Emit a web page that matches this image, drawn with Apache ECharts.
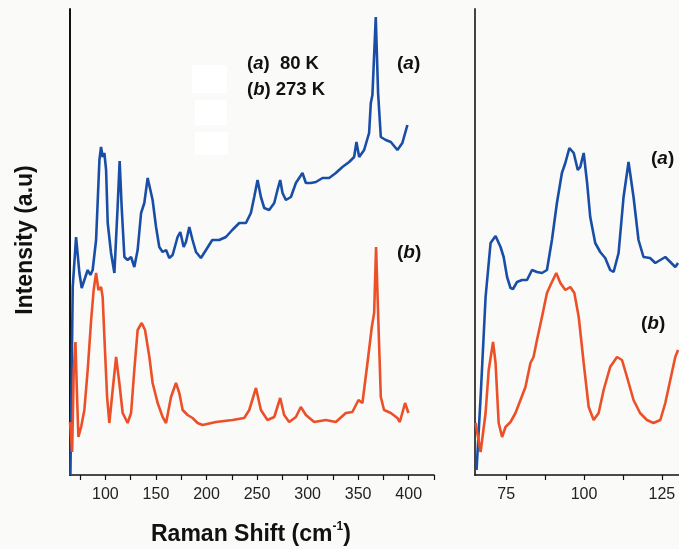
<!DOCTYPE html>
<html>
<head>
<meta charset="utf-8">
<script src="https://cdn.jsdelivr.net/npm/echarts@6/dist/echarts.min.js"></script>
<style>
html,body{margin:0;padding:0;background:#fafaf8;}
#chart{width:679px;height:549px;}
</style>
</head>
<body>
<div id="chart"></div>
<script>
// full range, curve (a) 80 K
var wideShiftA = [65.4,67.7,71.0,74.3,76.6,79.2,82.5,85.2,87.4,90.8,94.1,95.7,97.3,99.0,100.7,102.3,105.6,108.9,112.1,114.1,116.1,118.8,122.0,125.4,128.6,131.9,135.3,138.5,141.8,144.5,146.7,150.1,153.3,156.6,160.0,163.2,166.5,171.4,174.1,177.4,179.7,183.0,186.2,189.6,194.5,199.5,205.7,212.6,219.2,225.5,232.4,239.0,243.9,247.2,250.5,253.8,257.1,262.0,267.0,270.2,272.9,275.2,278.5,283.5,288.4,294.9,298.3,303.2,308.2,314.7,321.3,327.9,334.4,341.1,346.0,348.3,351.0,355.9,360.8,362.5,364.1,367.4,369.7,372.4,377.3,382.3,388.8,393.7,398.7];
var wideIntA = [0,188,238,202,187,195,205,200,205,235,315,328,318,322,305,252,222,202,268,314,268,218,215,218,208,225,262,272,297,285,275,248,228,223,225,217,220,238,243,228,233,248,235,223,217,225,235,235,238,245,252,252,262,278,295,278,267,265,272,285,295,282,275,278,292,302,292,292,293,297,297,302,308,313,318,333,318,325,342,372,380,458,382,338,335,333,325,332,350];
// full range, curve (b) 273 K
var wideShiftB = [65.0,67.1,68.7,70.4,72.0,73.3,76.0,79.2,82.5,85.9,88.4,90.8,93.1,95.7,97.3,99.0,101.7,103.9,107.2,110.6,113.8,117.1,122.0,125.4,128.6,131.9,135.9,139.2,143.5,146.7,151.7,156.6,160.0,164.9,169.8,173.1,176.4,181.3,186.2,191.2,196.1,209.4,225.8,237.3,242.3,248.9,253.8,260.3,267.0,272.9,276.8,281.8,288.4,293.3,298.3,306.5,318.0,327.9,337.8,344.3,350.3,354.2,359.2,363.5,365.8,367.7,369.7,372.4,375.6,382.3,388.8,391.2,396.4,399.7];
var wideIntB = [53,23,105,133,78,38,48,65,105,155,185,202,185,188,178,138,78,52,85,118,92,62,52,62,105,145,152,145,118,92,72,58,52,78,92,82,65,60,57,52,50,53,55,57,65,87,65,55,58,77,60,53,58,68,60,53,55,53,62,63,75,72,112,148,162,228,162,78,65,62,57,53,72,62];
// low-frequency detail, curve (a)
var zoomShiftA = [65.5,66.8,68.4,70.0,71.6,73.2,74.2,75.3,76.4,77.2,78.5,80.1,81.7,83.3,84.9,86.5,88.1,89.7,91.3,92.9,94.0,95.3,96.7,98.0,98.8,99.9,101.0,102.0,103.6,105.2,106.8,108.4,109.5,111.1,112.7,114.3,115.9,117.5,119.1,121.2,122.9,124.5,126.1,127.7,129.3,130.2];
var zoomIntA = [5,78,178,232,239,228,218,198,187,186,193,195,195,205,203,202,205,235,272,302,312,327,322,305,308,322,292,258,232,223,217,205,203,222,278,313,278,235,218,217,212,215,218,213,208,212];
// low-frequency detail, curve (b)
var zoomShiftB = [65.2,66.8,68.4,69.4,70.8,71.6,72.6,73.7,74.8,76.4,78.0,79.6,81.2,82.8,83.8,84.9,86.5,88.1,89.7,91.1,92.4,94.0,95.6,96.9,98.3,99.9,101.5,103.1,104.7,106.3,108.4,110.6,112.2,113.8,115.9,118.0,120.2,122.3,124.5,126.1,127.7,129.3,130.2];
var zoomIntB = [52,23,62,105,133,112,52,38,48,53,62,75,88,112,118,135,158,182,193,202,192,185,188,182,158,112,68,55,62,85,108,118,115,98,75,62,55,52,55,72,95,118,125];

var wideTicks = [75,100,125,150,175,200,225,250,275,300,325,350,375,400,425];
var wideLabels = [100,150,200,250,300,350,400];
var zoomTicks = [75,87.5,100,112.5,125];
var zoomLabels = [75,100,125];

var blue = '#1a4ea6';
var red = '#eb5028';

function pairs(xs, ys){
    return xs.map(function(x,i){ return [x, ys[i]]; });
}

var chart = echarts.init(document.getElementById('chart'));

function xAxisFor(idx, min, max, ticks, labels){
    return {
        type:'value', gridIndex:idx, min:min, max:max,
        splitLine:{show:false},
        axisLine:{show:true, onZero:false, lineStyle:{color:'#111', width:1.5}},
        axisTick:{show:true, customValues:ticks, length:5, lineStyle:{color:'#111', width:1.2}},
        axisLabel:{customValues:labels, color:'#222', fontSize:16, margin:12,
                   fontFamily:'Liberation Sans, Arial, sans-serif'}
    };
}
function yAxisFor(idx, col){
    return {
        type:'value', gridIndex:idx, min:0, max:466,
        splitLine:{show:false},
        axisLine:{show:true, lineStyle:{color:col, width:2}},
        axisTick:{show:false},
        axisLabel:{show:false}
    };
}
function curve(xi, xs, ys, col){
    return {
        type:'line', xAxisIndex:xi, yAxisIndex:xi,
        data:pairs(xs, ys), showSymbol:false, smooth:false,
        lineStyle:{color:col, width:2.6}, itemStyle:{color:col},
        animation:false
    };
}

var bold = 'Liberation Sans, Arial, sans-serif';
function tag(letter, x, y){
    return {
        type:'text', left:x, top:y,
        style:{
            text:'{n|(}{i|' + letter + '}{n|)}',
            rich:{
                n:{fontSize:19, fontWeight:'bold', fontFamily:bold, fill:'#111'},
                i:{fontSize:19, fontWeight:'bold', fontStyle:'italic', fontFamily:bold, fill:'#111'}
            }
        }
    };
}

chart.setOption({
    backgroundColor:'#fafaf8',
    grid:[
        {left:70, right:245, top:9, bottom:74},
        {left:475, right:0, top:9, bottom:74}
    ],
    xAxis:[
        xAxisFor(0, 65, 425, wideTicks, wideLabels),
        xAxisFor(1, 65, 130.5, zoomTicks, zoomLabels)
    ],
    yAxis:[yAxisFor(0, '#111'), yAxisFor(1, '#444')],
    series:[
        curve(0, wideShiftA, wideIntA, blue),
        curve(0, wideShiftB, wideIntB, red),
        curve(1, zoomShiftA, zoomIntA, blue),
        curve(1, zoomShiftB, zoomIntB, red)
    ],
    graphic:[
        {type:'rect', shape:{x:192, y:65, width:35, height:28}, style:{fill:'#ffffff'}},
        {type:'rect', shape:{x:195, y:100, width:32, height:25}, style:{fill:'#ffffff'}},
        {type:'rect', shape:{x:195, y:132, width:33, height:23}, style:{fill:'#ffffff'}},
        {
            type:'text', left:247, top:54,
            style:{
                text:'{n|(}{i|a}{n|)  80 K}\n{n|(}{i|b}{n|) 273 K}',
                rich:{
                    n:{fontSize:18.5, fontWeight:'bold', fontFamily:bold, fill:'#111', lineHeight:26},
                    i:{fontSize:18.5, fontWeight:'bold', fontStyle:'italic', fontFamily:bold, fill:'#111', lineHeight:26}
                }
            }
        },
        tag('a', 397, 54),
        tag('b', 397, 243),
        tag('a', 651, 149),
        tag('b', 641, 314),
        {
            type:'text', left:151, top:521,
            style:{
                text:'{t|Raman Shift (cm}{s|-1}{t|)}',
                rich:{
                    t:{fontSize:23, fontWeight:'bold', fontFamily:bold, fill:'#111', lineHeight:27},
                    s:{fontSize:12, fontWeight:'bold', fontFamily:bold, fill:'#111', verticalAlign:'top', lineHeight:14}
                }
            }
        },
        {
            type:'text', x:26, y:240, rotation:Math.PI/2,
            style:{
                text:'Intensity (a.u)', fontSize:23, fontWeight:'bold', fontFamily:bold,
                fill:'#111', textAlign:'center', textVerticalAlign:'middle'
            }
        }
    ]
});
</script>
</body>
</html>
